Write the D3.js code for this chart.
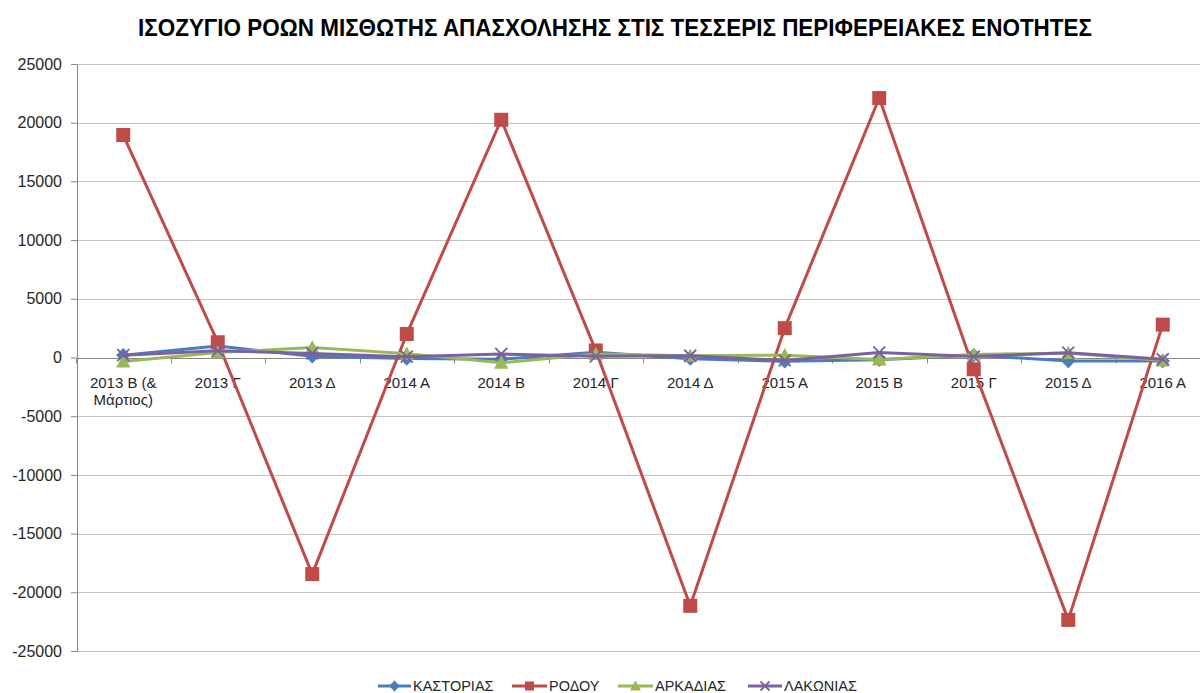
<!DOCTYPE html>
<html><head><meta charset="utf-8">
<script src="https://cdn.jsdelivr.net/npm/d3@7/dist/d3.min.js"></script>
<style>body{margin:0;background:#fff;}svg{display:block;}</style>
</head><body><svg id="c" width="1200" height="693"></svg>
<script>
const categories = ["2013 B (&\nΜάρτιος)","2013 Γ","2013 Δ","2014 A","2014 B","2014 Γ","2014 Δ","2015 A","2015 B","2015 Γ","2015 Δ","2016 A"];
const kastorias = [200, 980, 100, -80, -150, 450, -100, -330, -200, 200, -300, -300];
const rodou = [18950, 1300, -18450, 2000, 20250, 600, -21150, 2500, 22100, -1000, -22350, 2800];
const arkadias = [-350, 420, 850, 330, -450, 300, 150, 200, -170, 250, 380, -250];
const lakonias = [200, 580, 350, 70, 300, 100, 150, -250, 430, 80, 410, -150];
const yTicks = [25000,20000,15000,10000,5000,0,-5000,-10000,-15000,-20000,-25000];
const seriesNames = ["ΚΑΣΤΟΡΙΑΣ","ΡΟΔΟΥ","ΑΡΚΑΔΙΑΣ","ΛΑΚΩΝΙΑΣ"];
const titleText = "ΙΣΟΖΥΓΙΟ ΡΟΩΝ ΜΙΣΘΩΤΗΣ ΑΠΑΣΧΟΛΗΣΗΣ ΣΤΙΣ ΤΕΣΣΕΡΙΣ ΠΕΡΙΦΕΡΕΙΑΚΕΣ ΕΝΟΤΗΤΕΣ";

(function(){
const colors = ["#4a7ebb","#be4b48","#98b954","#7d60a0"];
const markers = ["diamond","square","triangle","x"];
const data = [kastorias, rodou, arkadias, lakonias];
const font = "'Liberation Sans', Arial, sans-serif";

const svg = d3.select("#c");
const pL = 77, pR = 1210, pT = 64, pB = 651;
const x = d3.scalePoint().domain(categories).range([76, 1210]).padding(0.5);
const y = d3.scaleLinear().domain([-25000, 25000]).range([pB, pT]);
const step = x.step();

// title
const t = svg.append("text").attr("x", 615).attr("y", 36).attr("text-anchor","middle")
  .attr("font-family", font).attr("font-weight","bold").attr("font-size", 24).attr("fill","#000").text(titleText);
const tw = t.node().getComputedTextLength();
if (Math.abs(tw - 954) > 4) t.attr("textLength", 954).attr("lengthAdjust","spacingAndGlyphs");

// gridlines
svg.append("g").selectAll("line").data(yTicks.filter(d=>d!==0)).join("line")
  .attr("x1", pL).attr("x2", pR).attr("y1", d=>Math.round(y(d))+0.5).attr("y2", d=>Math.round(y(d))+0.5)
  .attr("stroke","#c4c4c4").attr("stroke-width",1);

// y axis
const ya = svg.append("g").attr("transform",`translate(${pL},0)`)
  .call(d3.axisLeft(y).tickValues(yTicks).tickSize(6).tickPadding(9).tickFormat(d3.format("d")));
ya.select(".domain").attr("stroke","#868686");
ya.selectAll(".tick line").attr("stroke","#868686");
ya.selectAll(".tick text").attr("font-family",font).attr("font-size",16).attr("fill","#262626");
ya.selectAll(".tick text").text(d => d < 0 ? "-" + Math.abs(d) : d);

// x axis line at zero
const y0 = Math.round(y(0)) + 0.5;
svg.append("line").attr("x1", pL).attr("x2", pR).attr("y1", y0).attr("y2", y0).attr("stroke","#868686");
const bounds = categories.map(c => x(c) - step/2).concat([x(categories[categories.length-1]) + step/2]);
svg.append("g").selectAll("line").data(bounds).join("line")
  .attr("x1", d=>Math.round(d)+0.5).attr("x2", d=>Math.round(d)+0.5).attr("y1", y0).attr("y2", y0+5)
  .attr("stroke","#868686");
const xl = svg.append("g").selectAll("text").data(categories).join("text")
  .attr("x", d=>x(d)).attr("y", y0+29).attr("text-anchor","middle")
  .attr("font-family",font).attr("font-size",15).attr("fill","#262626");
xl.each(function(d){
  const parts = d.split("\n");
  const el = d3.select(this);
  parts.forEach((p,i)=>{ el.append("tspan").attr("x", x(d)).attr("dy", i===0?0:17).text(p); });
});

function drawMarker(g, type, cx, cy, color, s) {
  if (type === "diamond") {
    g.append("path").attr("d", `M${cx},${cy-s*0.6}L${cx+s*0.6},${cy}L${cx},${cy+s*0.6}L${cx-s*0.6},${cy}Z`).attr("fill",color);
  } else if (type === "square") {
    g.append("rect").attr("x", cx-s/2).attr("y", cy-s/2).attr("width", s).attr("height", s).attr("fill",color);
  } else if (type === "triangle") {
    g.append("path").attr("d", `M${cx},${cy-s*0.6}L${cx+s*0.6},${cy+s*0.5}L${cx-s*0.6},${cy+s*0.5}Z`).attr("fill",color);
  } else {
    const h = s*0.5;
    g.append("path").attr("d", `M${cx-h},${cy-h}L${cx+h},${cy+h}M${cx-h},${cy+h}L${cx+h},${cy-h}`)
      .attr("stroke",color).attr("stroke-width",1.8).attr("fill","none");
  }
}

const line = d3.line().x((d,i)=>x(categories[i])).y(d=>y(d));
data.forEach((vals, si) => {
  const g = svg.append("g");
  g.append("path").datum(vals).attr("d", line).attr("fill","none")
    .attr("stroke", colors[si]).attr("stroke-width", 3).attr("stroke-linejoin","round");
  vals.forEach((v,i)=> drawMarker(g, markers[si], x(categories[i]), y(v), colors[si], si===1?14:12));
});

// legend
const legendItems = [
  {x1:378, x2:411, tx:413},
  {x1:512, x2:547, tx:549},
  {x1:618, x2:653, tx:655},
  {x1:748, x2:782, tx:784}
];
const ly = 686;
legendItems.forEach((it, si) => {
  const g = svg.append("g");
  g.append("line").attr("x1", it.x1).attr("x2", it.x2).attr("y1", ly).attr("y2", ly)
    .attr("stroke", colors[si]).attr("stroke-width", 3);
  drawMarker(g, markers[si], (it.x1+it.x2)/2, ly, colors[si], 9);
  g.append("text").attr("x", it.tx).attr("y", ly+5).attr("font-family",font).attr("font-size",14.5)
    .attr("fill","#262626").text(seriesNames[si]);
});
})();
</script></body></html>
